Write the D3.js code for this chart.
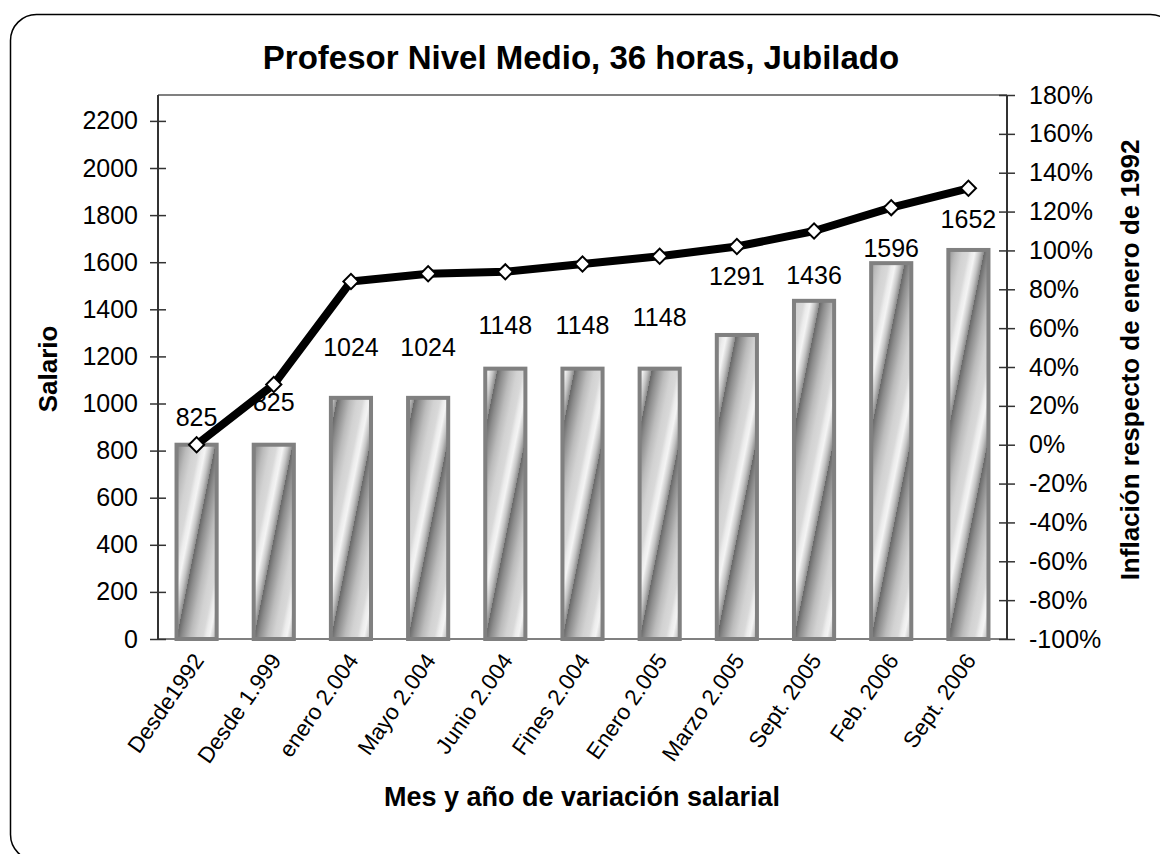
<!DOCTYPE html>
<html>
<head>
<meta charset="utf-8">
<script src="https://cdn.jsdelivr.net/npm/d3@7"></script>
<style>
  html, body { margin: 0; padding: 0; background: #fff; }
  svg { display: block; font-family: "Liberation Sans", Arial, sans-serif; }
</style>
</head>
<body>
<svg id="chart" width="1160" height="854"></svg>
<script>
// Salary per period (left axis) and cumulative inflation since Jan 1992 (right axis, %)
const categories = ["Desde1992", "Desde 1.999", "enero 2.004", "Mayo 2.004", "Junio 2.004",
  "Fines 2.004", "Enero 2.005", "Marzo 2.005", "Sept. 2005", "Feb. 2006", "Sept. 2006"];
const salary = [825, 825, 1024, 1024, 1148, 1148, 1148, 1291, 1436, 1596, 1652];
const inflation = [0, 31, 84, 88, 89, 93, 97, 102, 110, 122, 132];
const salaryTicks = d3.range(0, 2201, 200);
const inflationTicks = d3.range(-100, 181, 20);

// Hand-placed vertical nudges (px above bar top) so value labels clear the line
const labelLift = [19, 34, 42, 42, 35, 35, 43, 50, 17, 6, 22];

const svg = d3.select("#chart");
const W = 1160, H = 854;
const plot = { left: 158, right: 1007, top: 95, bottom: 639 };
const FONT = "Liberation Sans, Arial, sans-serif";

svg.append("rect").attr("width", W).attr("height", H).attr("fill", "#fff");

// rounded outer frame (runs past the right and bottom edges)
svg.append("rect")
  .attr("x", 10.5).attr("y", 14.5)
  .attr("width", 1166).attr("height", 846)
  .attr("rx", 26).attr("ry", 26)
  .attr("fill", "none").attr("stroke", "#000").attr("stroke-width", 1.5);

const x = d3.scaleBand().domain(categories)
  .range([plot.left, plot.right]).paddingInner(0.48).paddingOuter(0.24);
const y = d3.scaleLinear().domain([0, 2310]).range([plot.bottom, plot.top]);
const y2 = d3.scaleLinear().domain([-100, 180]).range([plot.bottom, plot.top]);

// bar gradient: slanted, repeating light/dark bands
const defs = svg.append("defs");
const stops = [
  [0.00, "#686868"], [0.12, "#8c8c8c"], [0.32, "#bbbbbb"], [0.48, "#d2d2d2"],
  [0.62, "#d9d9d9"], [0.70, "#ececec"], [0.78, "#f4f4f4"], [0.90, "#c4c4c4"], [1.00, "#8a8a8a"]
];
const slant = 0.2;
salary.forEach((v, i) => {
  const x0 = x(categories[i]), bw = x.bandwidth(), yb = y(0);
  const g = defs.append("linearGradient")
    .attr("id", "barFill" + i)
    .attr("gradientUnits", "userSpaceOnUse")
    .attr("spreadMethod", "repeat")
    .attr("x1", x0).attr("y1", yb)
    .attr("x2", x0 + bw).attr("y2", yb + slant * bw);
  stops.forEach(s => g.append("stop").attr("offset", s[0]).attr("stop-color", s[1]));
});

// plot area border (top gray)
svg.append("line").attr("x1", plot.left).attr("x2", plot.right)
  .attr("y1", plot.top).attr("y2", plot.top)
  .attr("stroke", "#808080").attr("stroke-width", 2);

// bars
svg.append("g").selectAll("rect").data(salary).join("rect")
  .attr("x", (d, i) => x(categories[i]))
  .attr("y", d => y(d))
  .attr("width", x.bandwidth())
  .attr("height", d => y(0) - y(d))
  .attr("fill", (d, i) => `url(#barFill${i})`)
  .attr("stroke", "#808080").attr("stroke-width", 4);

svg.append("line").attr("x1", plot.left).attr("x2", plot.right)
  .attr("y1", plot.bottom).attr("y2", plot.bottom)
  .attr("stroke", "#808080").attr("stroke-width", 2);

// left axis
const yAxis = svg.append("g").attr("transform", `translate(${plot.left},0)`)
  .call(d3.axisLeft(y).tickValues(salaryTicks).tickFormat(d3.format("d"))
    .tickSize(8).tickPadding(12).tickSizeOuter(0));
yAxis.select(".domain").remove();
yAxis.append("line").attr("x1", 0).attr("x2", 0).attr("y1", plot.top).attr("y2", plot.bottom)
  .attr("stroke", "#333").attr("stroke-width", 2);
yAxis.selectAll(".tick line").attr("x2", -8).attr("x1", 8).attr("stroke", "#333").attr("stroke-width", 1.5);
yAxis.selectAll(".tick text").attr("font-size", 25).attr("fill", "#000").attr("font-family", FONT);

// right axis
const y2Axis = svg.append("g").attr("transform", `translate(${plot.right},0)`)
  .call(d3.axisRight(y2).tickValues(inflationTicks).tickFormat(d => d + "%")
    .tickSize(8).tickPadding(14).tickSizeOuter(0));
y2Axis.select(".domain").remove();
y2Axis.append("line").attr("x1", 0).attr("x2", 0).attr("y1", plot.top).attr("y2", plot.bottom)
  .attr("stroke", "#333").attr("stroke-width", 2);
y2Axis.selectAll(".tick line").attr("x1", -8).attr("x2", 8).attr("stroke", "#333").attr("stroke-width", 1.5);
y2Axis.selectAll(".tick text").attr("font-size", 25).attr("fill", "#000").attr("font-family", FONT);

// category labels (rotated)
svg.append("g").selectAll("text").data(categories).join("text")
  .attr("transform", d => `translate(${x(d) + x.bandwidth() / 2 + 2},${plot.bottom + 17}) rotate(-55)`)
  .attr("text-anchor", "end")
  .attr("dy", "0.35em")
  .attr("font-size", 22.5)
  .text(d => d);

// inflation line
const cx = i => x(categories[i]) + x.bandwidth() / 2;
svg.append("path")
  .datum(inflation)
  .attr("d", d3.line().x((d, i) => cx(i)).y(d => y2(d)))
  .attr("fill", "none").attr("stroke", "#000").attr("stroke-width", 8)
  .attr("stroke-linejoin", "round");

// value labels
svg.append("g").selectAll("text").data(salary).join("text")
  .attr("x", (d, i) => cx(i))
  .attr("y", (d, i) => y(d) - labelLift[i])
  .attr("text-anchor", "middle")
  .attr("font-size", 25)
  .text(d => d);

// diamond markers
svg.append("g").selectAll("path").data(inflation).join("path")
  .attr("transform", (d, i) => `translate(${cx(i)},${y2(d)}) rotate(45)`)
  .attr("d", d3.symbol().type(d3.symbolSquare).size(115))
  .attr("fill", "#fff").attr("stroke", "#000").attr("stroke-width", 2);

// titles
svg.append("text").attr("x", 581).attr("y", 69).attr("text-anchor", "middle")
  .attr("font-size", 33).attr("font-weight", "bold")
  .text("Profesor Nivel Medio, 36 horas, Jubilado");

svg.append("text").attr("x", 582).attr("y", 806).attr("text-anchor", "middle")
  .attr("font-size", 27).attr("font-weight", "bold")
  .text("Mes y año de variación salarial");

svg.append("text").attr("transform", "translate(57,369) rotate(-90)")
  .attr("text-anchor", "middle").attr("font-size", 26).attr("font-weight", "bold")
  .text("Salario");

svg.append("text").attr("transform", "translate(1139,360) rotate(-90)")
  .attr("text-anchor", "middle").attr("font-size", 26).attr("font-weight", "bold")
  .text("Inflación respecto de enero de 1992");
</script>
</body>
</html>
